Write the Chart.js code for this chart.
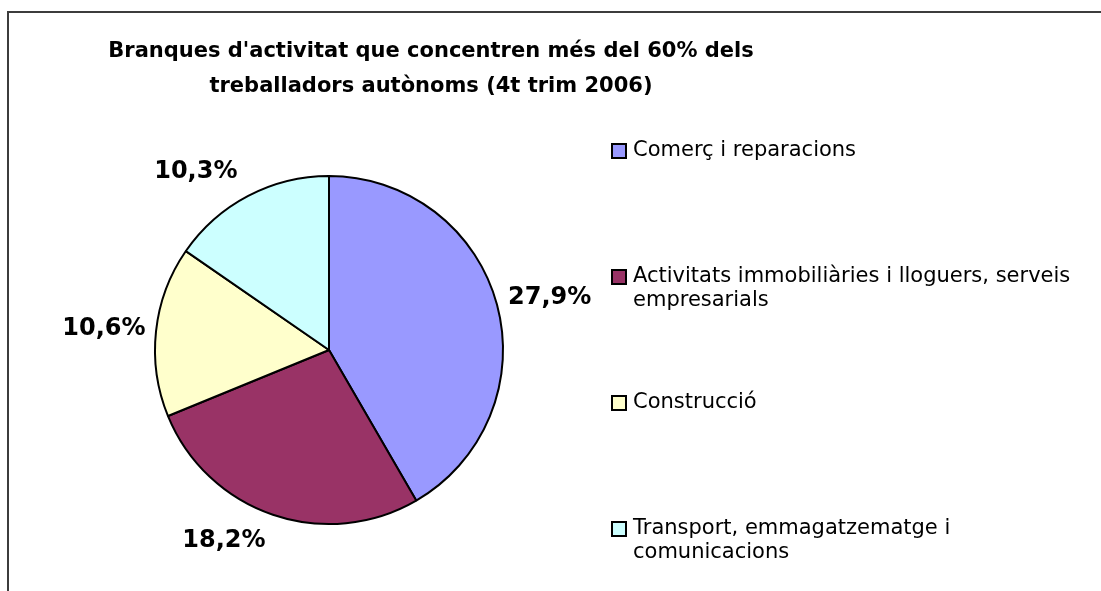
<!DOCTYPE html>
<html>
<head>
<meta charset="utf-8">
<script src="https://cdn.jsdelivr.net/npm/chart.js@4.4.0/dist/chart.umd.min.js"></script>
<style>
  html, body { margin: 0; padding: 0; background: #fff; }
  canvas { display: block; }
</style>
</head>
<body>
<canvas id="chart" width="1101" height="591"></canvas>
<script>
const titleLines = ["Branques d'activitat que concentren més del 60% dels", 'treballadors autònoms (4t trim 2006)'];
const categories = [
  ['Comerç i reparacions'],
  ['Activitats immobiliàries i lloguers, serveis', 'empresarials'],
  ['Construcció'],
  ['Transport, emmagatzematge i', 'comunicacions']
];
const shares = [27.9, 18.2, 10.6, 10.3];
const sliceColors = ['#9999FF', '#993366', '#FFFFCC', '#CCFFFF'];

// 27.9 -> "27,9%"
const fmt = v => v.toFixed(1).replace('.', ',') + '%';

const decorations = {
  id: 'decorations',
  afterDraw(chart) {
    const ctx = chart.ctx;
    ctx.save();

    // outer frame (only top and left edges are visible)
    ctx.strokeStyle = '#3c3c3c';
    ctx.lineWidth = 2;
    ctx.beginPath();
    ctx.moveTo(1101, 12);
    ctx.lineTo(8, 12);
    ctx.lineTo(8, 591);
    ctx.stroke();

    // title
    ctx.fillStyle = '#000';
    ctx.font = 'bold 21px "DejaVu Sans"';
    ctx.textAlign = 'center';
    ctx.textBaseline = 'alphabetic';
    titleLines.forEach((t, i) => ctx.fillText(t, 431, 57 + i * 35));

    // percentage labels outside the slices
    const meta = chart.getDatasetMeta(0);
    ctx.font = 'bold 24px "DejaVu Sans"';
    ctx.textBaseline = 'middle';
    meta.data.forEach((arc, i) => {
      const mid = (arc.startAngle + arc.endAngle) / 2;
      const ux = Math.cos(mid), uy = Math.sin(mid);
      const x = arc.x + ux * (arc.outerRadius + 52) + Math.sign(ux) * 36 * uy * uy;
      const y = arc.y + uy * (arc.outerRadius + 27);
      ctx.fillText(fmt(shares[i]), x, y);
    });

    // legend
    ctx.font = '21px "DejaVu Sans"';
    ctx.textAlign = 'left';
    categories.forEach((lines, i) => {
      const y0 = 151 + i * 126;
      ctx.fillStyle = sliceColors[i];
      ctx.fillRect(612, y0 - 7, 14, 14);
      ctx.strokeStyle = '#000';
      ctx.lineWidth = 2;
      ctx.strokeRect(612, y0 - 7, 14, 14);
      ctx.fillStyle = '#000';
      lines.forEach((l, j) => ctx.fillText(l, 633, y0 + j * 24));
    });

    ctx.restore();
  }
};

new Chart(document.getElementById('chart').getContext('2d'), {
  type: 'pie',
  data: {
    labels: categories,
    datasets: [{
      data: shares,
      backgroundColor: sliceColors,
      borderColor: '#000',
      borderWidth: 2,
      borderAlign: 'center'
    }]
  },
  options: {
    responsive: false,
    animation: false,
    layout: { padding: { left: 154, top: 175, right: 597, bottom: 66 } },
    plugins: {
      legend: { display: false },
      title: { display: false },
      tooltip: { enabled: false }
    }
  },
  plugins: [decorations]
});
</script>
</body>
</html>
